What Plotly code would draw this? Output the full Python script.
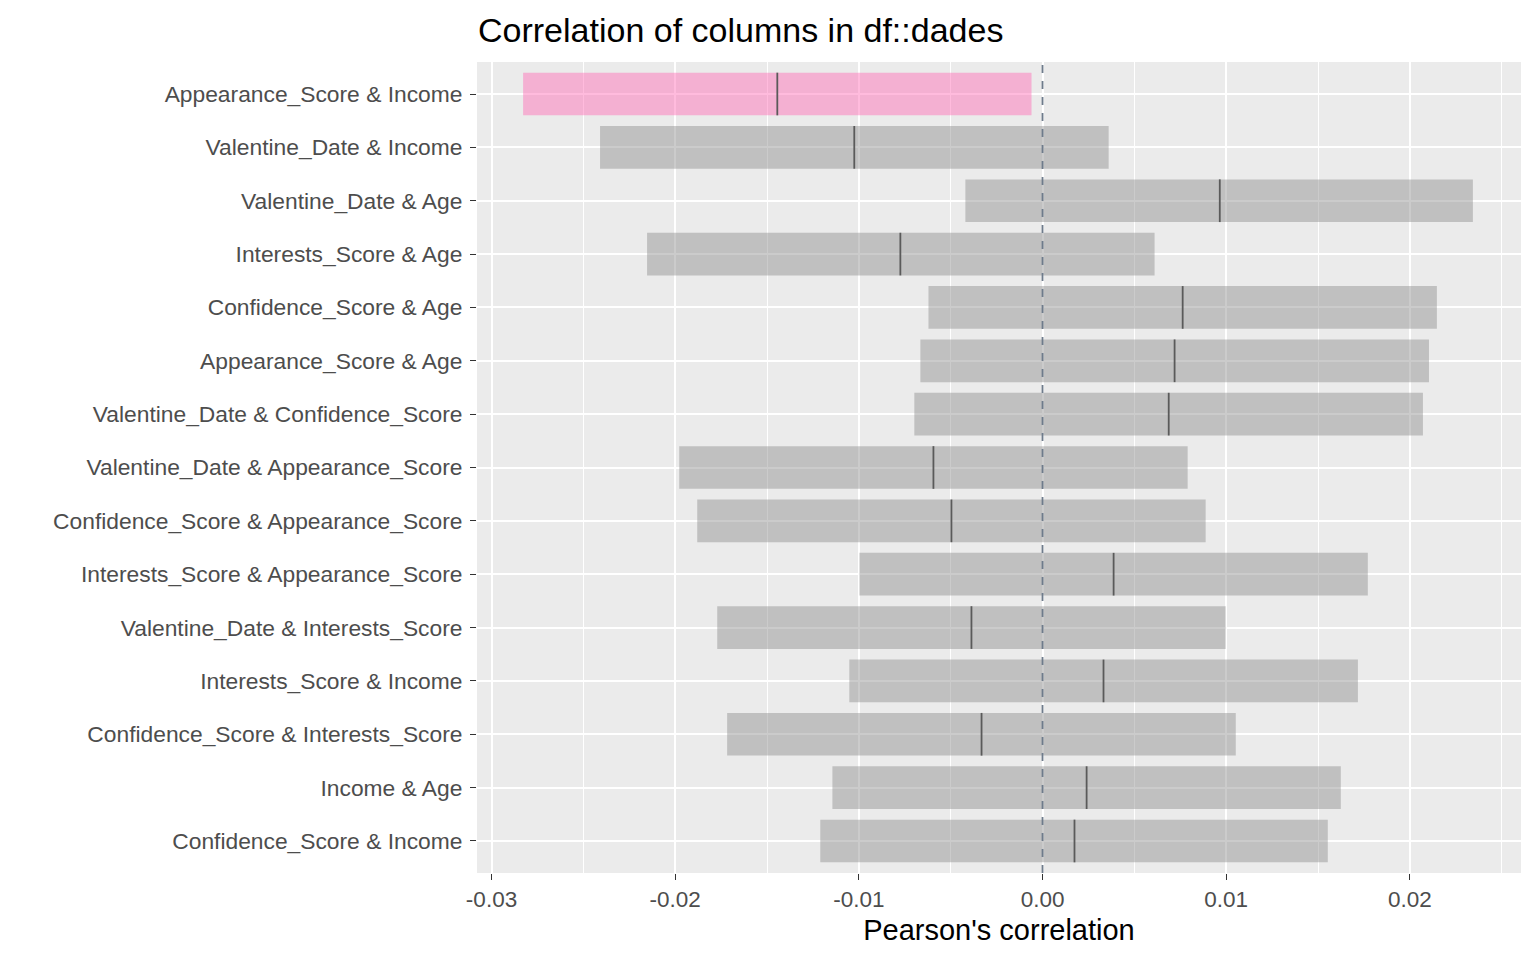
import plotly.graph_objects as go

pairs = [
    "Appearance_Score & Income",
    "Valentine_Date & Income",
    "Valentine_Date & Age",
    "Interests_Score & Age",
    "Confidence_Score & Age",
    "Appearance_Score & Age",
    "Valentine_Date & Confidence_Score",
    "Valentine_Date & Appearance_Score",
    "Confidence_Score & Appearance_Score",
    "Interests_Score & Appearance_Score",
    "Valentine_Date & Interests_Score",
    "Interests_Score & Income",
    "Confidence_Score & Interests_Score",
    "Income & Age",
    "Confidence_Score & Income",
]
estimate = [-0.01444, -0.01025, 0.00965, -0.00774, 0.00763, 0.00719, 0.00687,
            -0.00594, -0.00496, 0.00387, -0.00387, 0.00332, -0.00332, 0.00240, 0.00174]
ci_low = [-0.02828, -0.02409, -0.00420, -0.02153, -0.00621, -0.00665, -0.00698,
          -0.01978, -0.01880, -0.00997, -0.01771, -0.01052, -0.01717, -0.01144, -0.01210]
ci_high = [-0.00060, 0.00360, 0.02343, 0.00610, 0.02147, 0.02104, 0.02071,
           0.00790, 0.00888, 0.01771, 0.00997, 0.01717, 0.01052, 0.01624, 0.01553]
significant = [True] + [False] * 14

x_range = [-0.03079, 0.02605]
major_ticks = [-0.03, -0.02, -0.01, 0.00, 0.01, 0.02]
major_labels = ["-0.03", "-0.02", "-0.01", "0.00", "0.01", "0.02"]
minor_ticks = [-0.025, -0.015, -0.005, 0.005, 0.015, 0.025]

colors = ["rgba(255,105,180,0.45)" if s else "rgba(140,140,140,0.45)" for s in significant]

fig = go.Figure()

fig.add_trace(go.Bar(
    y=pairs,
    x=[h - l for l, h in zip(ci_low, ci_high)],
    base=ci_low,
    orientation="h",
    marker=dict(color=colors, line=dict(width=0)),
    width=0.8,
    showlegend=False,
    hoverinfo="skip",
))

fig.add_trace(go.Scatter(
    y=pairs,
    x=estimate,
    mode="markers",
    marker=dict(symbol="line-ns", size=30.5, line=dict(width=1.8, color="#5a5a5a")),
    showlegend=False,
    hoverinfo="skip",
))

fig.add_vline(x=0, line=dict(color="#6e7b8b", width=1.8, dash="8px,8px"), layer="above")

fig.update_layout(
    width=1536, height=960,
    margin=dict(l=469, r=23, t=54, b=95),
    paper_bgcolor="white",
    plot_bgcolor="#EBEBEB",
    font=dict(family="Liberation Sans, Arial, sans-serif"),
    title=dict(text="Correlation of columns in df::dades", x=470/1536, xanchor="left",
               y=1 - 22/960, yanchor="middle",
               font=dict(size=34, color="black")),
    bargap=0.2,
)

fig.update_xaxes(
    range=x_range,
    tickvals=major_ticks, ticktext=major_labels,
    ticks="outside", ticklen=6, tickcolor="#333333", tickwidth=1.1,
    tickfont=dict(size=22.5, color="#4D4D4D"),
    gridcolor="white", gridwidth=1.8,
    minor=dict(tickvals=minor_ticks, showgrid=True, gridcolor="white", gridwidth=0.9, ticks=""),
    zeroline=False, showline=False,
    title=dict(text="Pearson's correlation", font=dict(size=29, color="black"), standoff=8),
)
fig.update_yaxes(
    categoryorder="array", categoryarray=pairs,
    range=[14.6, -0.6],
    ticks="outside", ticklen=6, tickcolor="#333333", tickwidth=1.1,
    tickfont=dict(size=22.8, color="#4D4D4D"),
    ticklabelstandoff=3,
    gridcolor="white", gridwidth=1.8,
    zeroline=False, showline=False,
)

fig.write_html("out.html")
